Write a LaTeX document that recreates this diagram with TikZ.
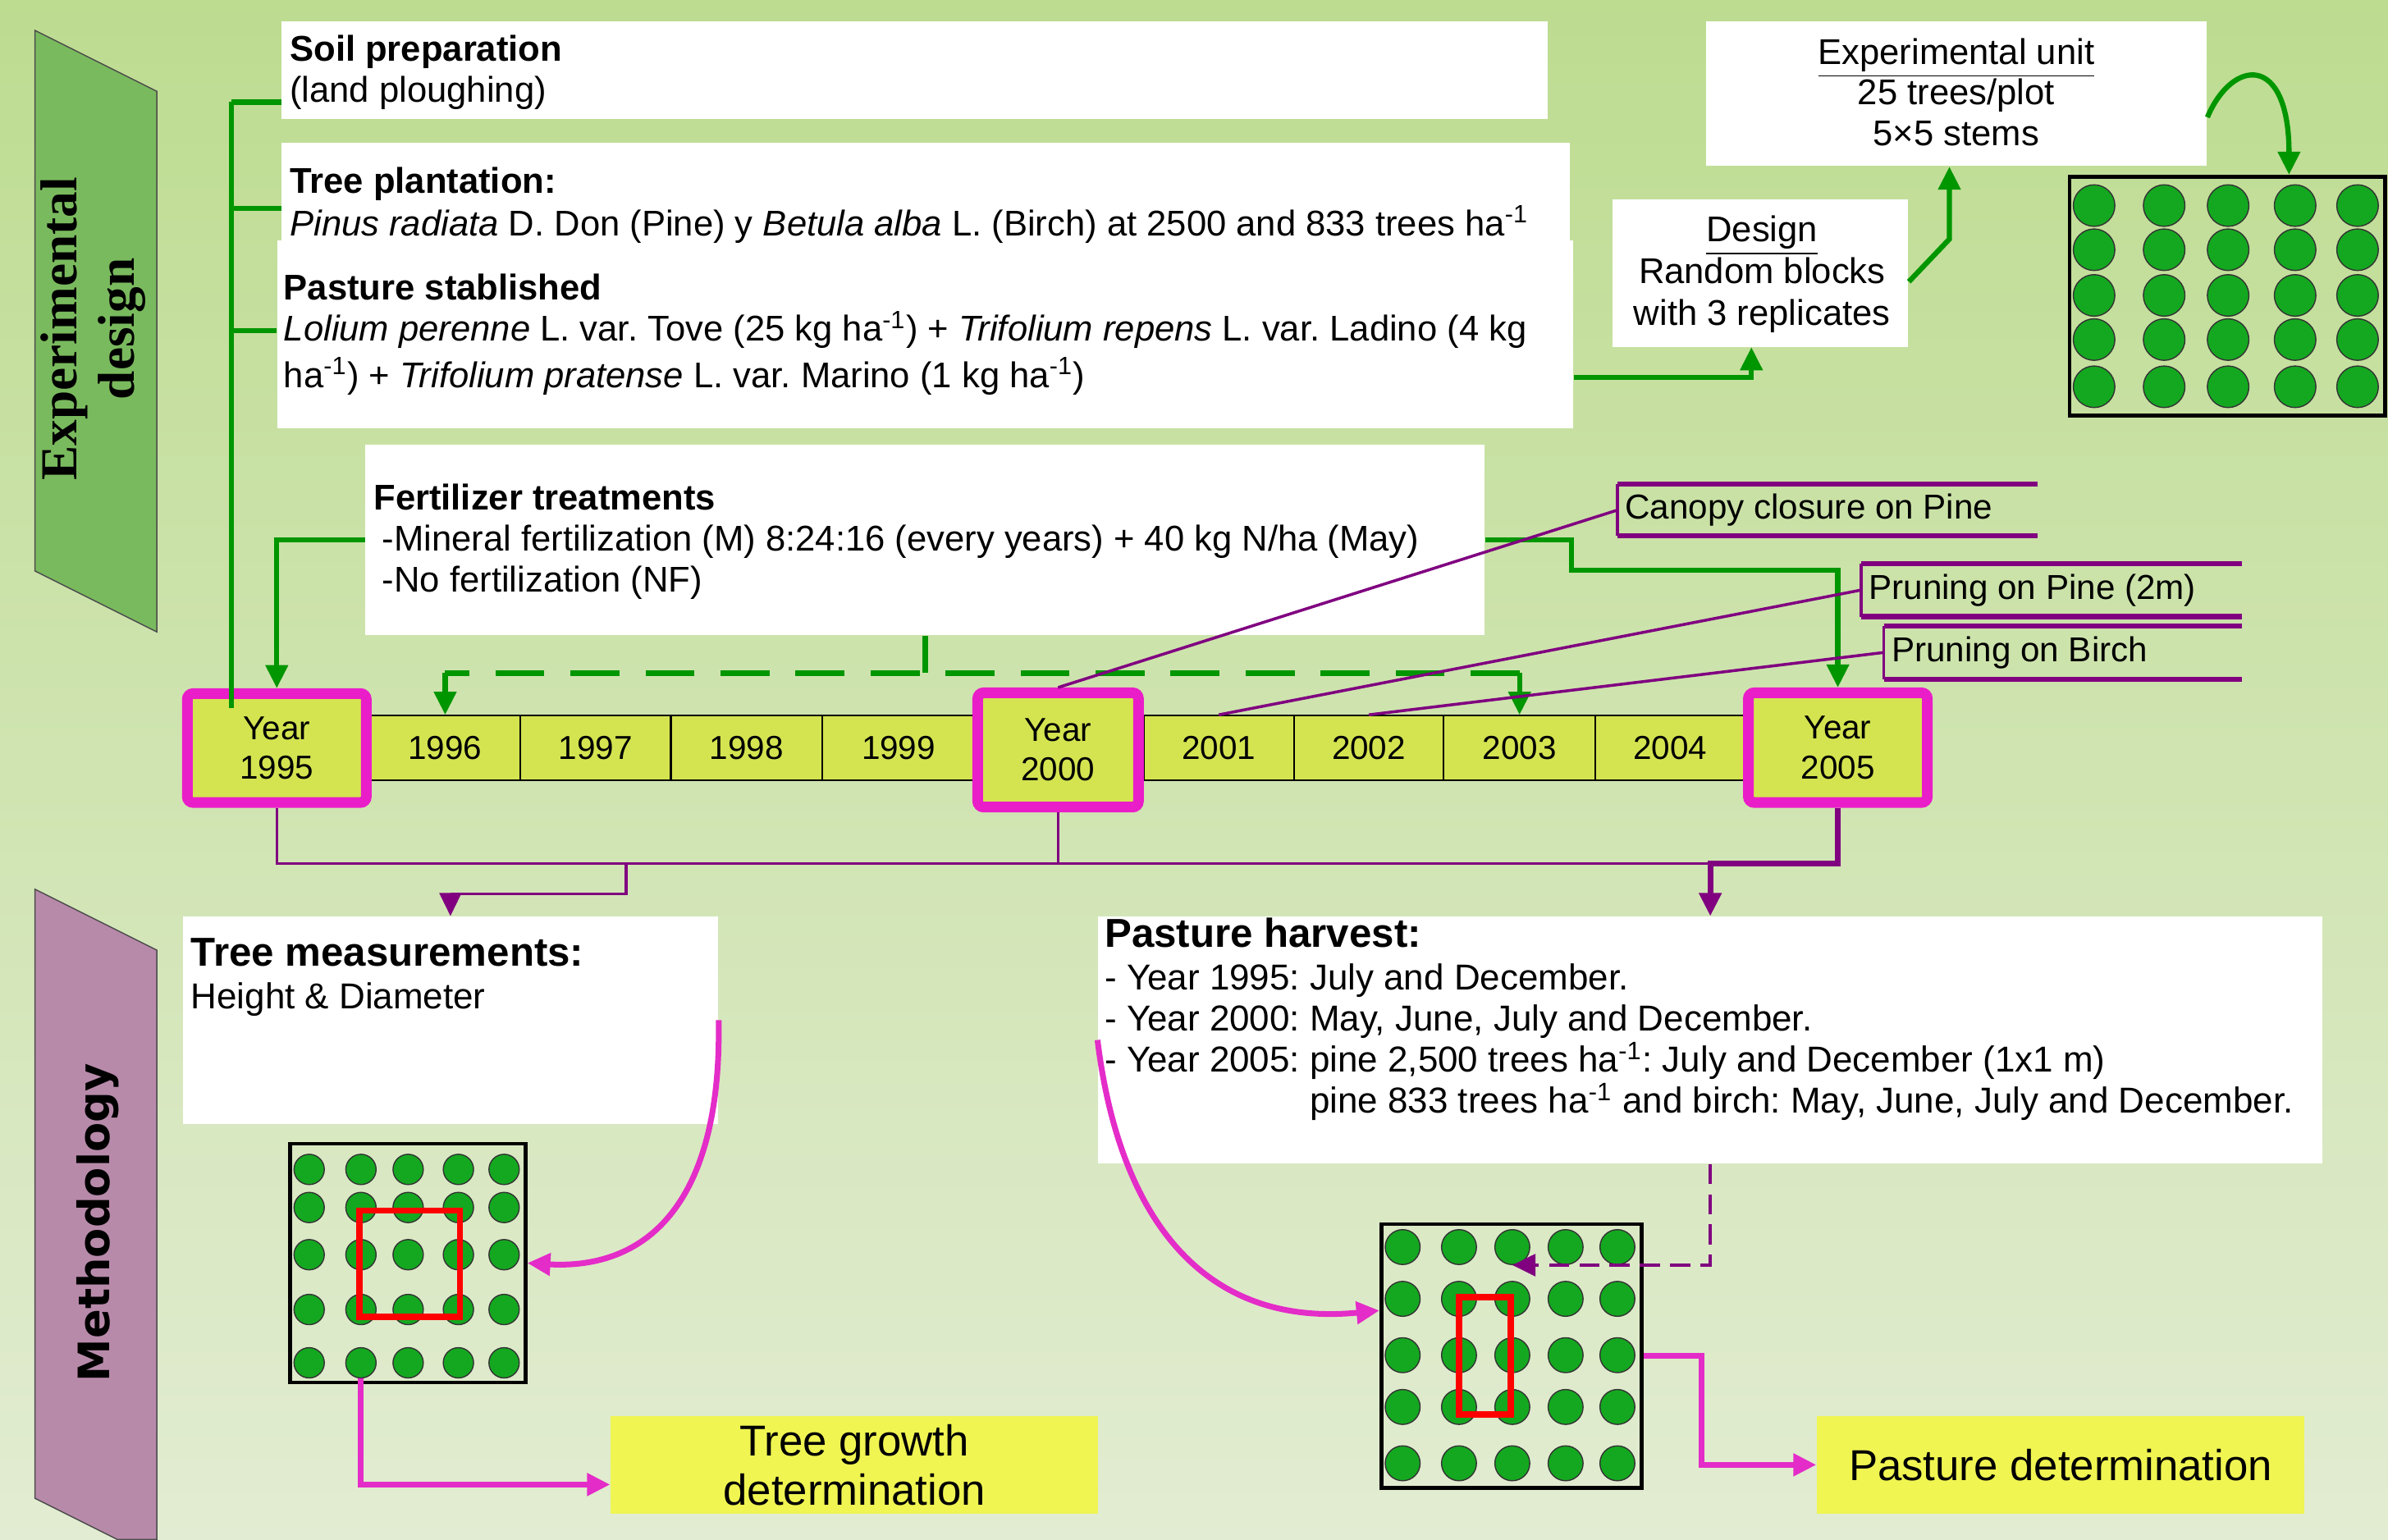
\documentclass[tikz,border=0pt]{standalone}
\usepackage{fontspec}
\setmainfont{Liberation Sans}
\newfontfamily\bannerserif{Liberation Serif}
\newfontfamily\bannersans{DejaVu Sans}
\usetikzlibrary{arrows.meta,positioning,fit,calc}
\frenchspacing

\definecolor{bgtop}{RGB}{189,220,144}
\definecolor{bgbottom}{RGB}{226,236,210}
\definecolor{designgreen}{RGB}{122,186,94}
\definecolor{methodmauve}{RGB}{184,138,170}
\definecolor{flowgreen}{RGB}{0,150,0}
\definecolor{flowpurple}{RGB}{128,0,128}
\definecolor{flowpink}{RGB}{228,44,200}
\definecolor{yearmagenta}{RGB}{234,30,200}
\definecolor{yearfill}{RGB}{212,228,80}
\definecolor{treefill}{RGB}{20,168,32}
\definecolor{resultfill}{RGB}{240,245,82}

\newcommand{\pxu}{0.0185587cm}

\tikzset{
  >={Triangle[length=8pt,width=7.5pt]},
  boxat/.style n args={4}{at={({(#1+#3)/2},{(#2+#4)/2})}, minimum width={(#3-#1)*\pxu}, minimum height={(#4-#2)*\pxu}},
  whitebox/.style={fill=white, inner sep=0pt},
  bodytext/.style={inner sep=0pt, anchor=north west, align=left, font=\fontsize{12.4}{14.2}\selectfont},
  yearbox/.style={draw=yearmagenta, line width=3.7pt, rounded corners=2pt, fill=yearfill, inner sep=0pt, align=center, font=\fontsize{11.5}{13.7}\selectfont},
  yearcell/.style={draw=black, line width=0.6pt, fill=yearfill, inner sep=0pt, font=\fontsize{11.5}{13.7}\selectfont},
  eventtext/.style={anchor=west, inner sep=2.5pt, font=\fontsize{12}{14}\selectfont},
  eventrule/.style={draw=flowpurple, line width=1.8pt},
  resultbox/.style={fill=resultfill, inner sep=0pt, align=center, font=\fontsize{15}{17}\selectfont},
  plotframe/.style={draw=black, line width=1.3pt, inner sep=0pt},
  treedot/.style={circle, draw=black!80, line width=0.4pt, fill=treefill, inner sep=0pt},
  sampleframe/.style={draw=red, line width=2.2pt},
  greenflow/.style={draw=flowgreen, line width=1.8pt},
  greendash/.style={draw=flowgreen, line width=2pt, dash pattern=on 17pt off 9pt},
  purpleflow/.style={draw=flowpurple, line width=1pt},
  purplethick/.style={draw=flowpurple, line width=1.9pt},
  purpledash/.style={draw=flowpurple, line width=1.3pt, dash pattern=on 7pt off 3.5pt},
  pinkflow/.style={draw=flowpink, line width=2pt},
}

\begin{document}
\begin{tikzpicture}[x=\pxu, y=-\pxu]
% background
\fill[top color=bgtop, bottom color=bgbottom] (0,0) rectangle (1568,1011);
\useasboundingbox (0,0) rectangle (1568,1011);

% side banners
\filldraw[fill=designgreen, draw=black!70, line width=0.4pt] (23,20) -- (103,60) -- (103,415) -- (23,375) -- cycle;
\node[rotate=90, align=center, font=\bannerserif\bfseries\fontsize{18}{20}\selectfont] (designlabel) at (61,216) {Experimental\\design};
\filldraw[fill=methodmauve, draw=black!70, line width=0.4pt] (23,584) -- (103,624) -- (103,1011) -- (77,1011) -- (23,984) -- cycle;
\node[rotate=90, font=\bannersans\bfseries\fontsize{15}{17}\selectfont] (methodlabel) at (64,803) {Methodology};

% white boxes
\node[whitebox, fit={(185,14) (1016,78)}] (soil) {};
\node[whitebox, fit={(185,94) (1031,160)}] (plant) {};
\node[whitebox, fit={(182,158) (1033,281)}] (past) {};
\node[whitebox, fit={(240,292) (975,417)}] (fert) {};
\node[whitebox, fit={(1059,131) (1253,228)}] (design) {};
\node[whitebox, fit={(1120,14) (1449,109)}] (expunit) {};

\node[bodytext] (soiltext) at (190,23) {\textbf{Soil preparation}\\(land ploughing)};
\node[bodytext, font=\fontsize{12.4}{14.7}\selectfont] (planttext) at (190,109.5) {\textbf{Tree plantation:}\\\textit{Pinus radiata} D. Don (Pine) y \textit{Betula alba} L. (Birch) at 2500 and 833 trees ha\textsuperscript{-1}};
\node[bodytext] (pasttext) at (186,179.5) {\textbf{Pasture stablished}\\\textit{Lolium perenne} L. var. Tove (25 kg ha\textsuperscript{-1}) + \textit{Trifolium repens} L. var. Ladino (4 kg\\[2pt]ha\textsuperscript{-1}) + \textit{Trifolium pratense} L. var. Marino (1 kg ha\textsuperscript{-1})};
\node[bodytext] (ferttext) at (245,317.5) {\textbf{Fertilizer treatments}\\\hspace*{3pt}-Mineral fertilization (M) 8:24:16 (every years) + 40 kg N/ha (May)\\\hspace*{3pt}-No fertilization (NF)};
\node[bodytext, anchor=north, align=center, font=\fontsize{12.4}{14.5}\selectfont] (designtext) at (1157,141.5) {\underline{Design}\\Random blocks\\with 3 replicates};
\node[bodytext, anchor=north, align=center, font=\fontsize{12.4}{14}\selectfont] (unittext) at (1284.5,25) {\underline{Experimental unit}\\25 trees/plot\\5×5 stems};

% events
\node[eventtext] (canopy) at (1062,335) {Canopy closure on Pine};
\draw[eventrule] (1338,318) -- (1062,318) (1062,352) -- (1338,352);
\draw[purpleflow] (1062,318) -- (1062,352);
\node[eventtext] (pineprune) at (1222,387.5) {Pruning on Pine (2m)};
\draw[eventrule] (1472,370) -- (1222,370) (1222,405) -- (1472,405);
\draw[purpleflow] (1222,370) -- (1222,405);
\node[eventtext] (birchprune) at (1237,428.5) {Pruning on Birch};
\draw[eventrule] (1472,411) -- (1237,411) (1237,446) -- (1472,446);
\draw[purpleflow] (1237,411) -- (1237,446);

% timeline
\foreach \yr/\xa/\xb in {1996/243/341.6, 1997/341.6/440.5, 1998/440.5/540, 1999/540/640, 2001/751/849.5, 2002/849.5/948, 2003/948/1047.5, 2004/1047.5/1146}
  \node[yearcell, boxat={\xa}{470}{\xb}{512.5}] (c\yr) {\yr};
\node[yearbox, boxat={123}{455.5}{240.5}{527}] (y1995) {Year\\1995};
\node[yearbox, boxat={642}{455}{747.5}{530}] (y2000) {Year\\2000};
\node[yearbox, boxat={1148}{455}{1265.5}{527}] (y2005) {Year\\2005};

% plots
\foreach \cx [count=\j] in {1375,1421,1463,1507,1548}
  \foreach \cy [count=\i] in {135,164,194,223,254}
    \node[treedot, minimum size=14.4pt] (B-\i-\j) at (\cx,\cy) {};
\node[plotframe, fit={(1359,116) (1566,273)}] (bigplot) {};

\foreach \cx [count=\j] in {203,237,268,301,331}
  \foreach \cy [count=\i] in {768,793,824,860,895}
    \node[treedot, minimum size=10.5pt] (L-\i-\j) at (\cx,\cy) {};
\node[plotframe, fit={(190.5,751) (345,908)}] (leftplot) {};
\draw[sampleframe] (236,795) rectangle (302,865);

\foreach \cx [count=\j] in {921,958,993,1028,1062}
  \foreach \cy [count=\i] in {819,853,890,924,961}
    \node[treedot, minimum size=12.1pt] (R-\i-\j) at (\cx,\cy) {};
\node[plotframe, fit={(907,804) (1078,977)}] (rightplot) {};
\draw[sampleframe] (958,852) rectangle (992,929);

% methodology boxes
\node[whitebox, fit={(120,602) (471.5,738)}] (treemeas) {};
\node[bodytext, font=\bfseries\fontsize{14}{16}\selectfont] (treemeastitle) at (125,615.7) {Tree measurements:};
\node[bodytext, font=\fontsize{12.5}{14.2}\selectfont] (treemeasbody) at (125,644.7) {Height \& Diameter};
\node[whitebox, fit={(721,602) (1525,764)}] (harvest) {};
\node[bodytext, font=\bfseries\fontsize{14}{16}\selectfont] (harvesttitle) at (725,602.5) {Pasture harvest:};
\node[bodytext, font=\fontsize{12.5}{14.2}\selectfont] (harvestbody) at (725,632.7) {- Year 1995: July and December.\\- Year 2000: May, June, July and December.\\- Year 2005: pine 2,500 trees ha\textsuperscript{-1}: July and December (1x1 m)\\\phantom{- Year 2005: }pine 833 trees ha\textsuperscript{-1} and birch: May, June, July and December.};
\node[resultbox, boxat={401}{930}{721}{994}] (treegrowth) {Tree growth\\determination};
\node[resultbox, boxat={1193}{930}{1513}{994}] (pasturedet) {Pasture determination};

% green connectors
\coordinate (spine) at (152,67);
\draw[greenflow] (spine) -- (152,465);
\draw[greenflow] (spine) -- (soil.west |- spine);
\draw[greenflow] (152,137) -- (plant.west |- 0,137);
\draw[greenflow] (152,217) -- (past.west |- 0,217);
\draw[greenflow, ->] (fert.west) -| (y1995.north);
\draw[greenflow, ->] (fert.east) -| (1032,374.5) -| (y2005.north);
\coordinate (dashleft) at (c1996.north |- 0,442);
\coordinate (dashright) at (c2003.north |- 0,442);
\draw[greenflow] (fert.south) -- (fert.south |- dashleft);
\draw[greendash] (dashright) -- (dashleft);
\draw[greenflow, ->] (dashleft) -- (c1996.north);
\draw[greenflow, ->] (dashright) -- (c2003.north);
\draw[greenflow, ->] (past.east |- 0,248) -| (1150,228);
\draw[greenflow, ->] (design.east |- 0,185) -- (1280,157) -- (expunit.south -| 1280,0);
\draw[greenflow, ->] (expunit.east |- 0,77) .. controls (1466,38) and (1503,35) .. (bigplot.north -| 1503,0);

% purple connectors
\draw[purpleflow] (y2000.north) -- (canopy.west);
\draw[purpleflow] (c2001.north) -- (pineprune.west);
\draw[purpleflow] (c2002.north) -- (birchprune.west);
\draw[purpleflow] (y1995.south) |- (harvest.north |- 0,567);
\draw[purpleflow] (y2000.south) -- (y2000.south |- 0,567);
\coordinate (split) at (411,567);
\draw[purpleflow, ->] (split) -- (411,587) -| (treemeas.north);
\draw[purplethick, ->] (y2005.south) |- (harvest.north |- 0,567) -- (harvest.north);
\draw[purpledash, ->] (harvest.south) |- (R-1-3.south);

% pink connectors
\draw[pinkflow, ->] (treemeas.east) .. controls (474,790) and (425,834) .. (leftplot.east);
\draw[pinkflow, ->] (L-5-2.south) |- ($(treegrowth.south west)!0.3!(treegrowth.north west)$);
\draw[pinkflow, ->] (harvest.west) .. controls (735,800) and (790,872) .. ($(rightplot.north west)!0.33!(rightplot.south west)$);
\draw[pinkflow, ->] (rightplot.east) -- (1117,890.5) |- (pasturedet.west);
\end{tikzpicture}
\end{document}
